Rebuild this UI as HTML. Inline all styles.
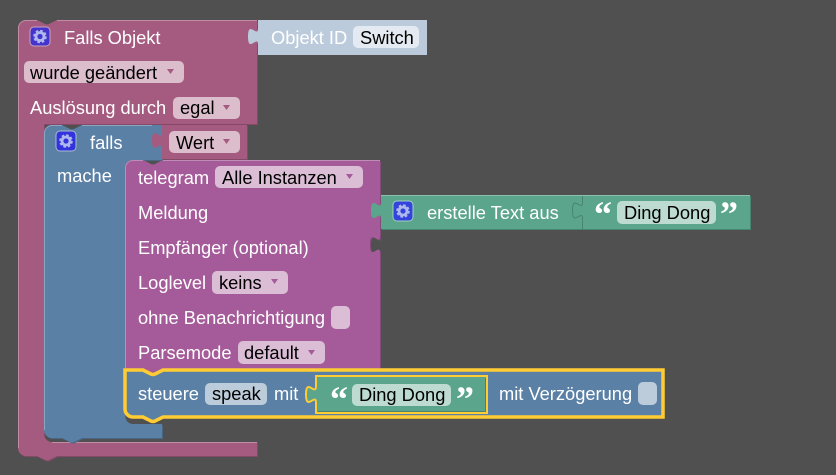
<!DOCTYPE html>
<html><head><meta charset="utf-8"><style>
html,body{margin:0;padding:0;background:#505050;width:836px;height:475px;overflow:hidden}
svg{display:block}
text{font-family:"Liberation Sans",sans-serif;font-size:18.3px;fill:#fff;white-space:pre}
.d{fill:#000}
.q{font-family:"Liberation Serif",serif;font-weight:bold;font-size:36px;fill:#fff}
</style></head><body>
<svg width="836" height="475" viewBox="0 0 836 475" xmlns="http://www.w3.org/2000/svg">
<defs>
<g id="gear">
<circle cx="10" cy="10" r="4" fill="none" stroke="#aeb8ee" stroke-width="2.8"/>
<circle cx="10" cy="10" r="5.800" fill="none" stroke="#aeb8ee" stroke-width="2" stroke-dasharray="2.6 1.95"/>
</g>
</defs>
<rect width="836" height="475" fill="#505050"/>

<!-- outer pink -->
<path transform="translate(1,1)" fill="#844966" d="M18,28a8,8 0 0 1 8,-8H37l7,3.500q3,2 6,0l7,-3.500H257V124H44V434a8,8 0 0 0 8,8H257V456H57l-7,3.500q-3,2 -6,0l-7,-3.500H26a8,8 0 0 1 -8,-8Z"/>
<path fill="#a55b80" d="M18,28a8,8 0 0 1 8,-8H37l7,3.500q3,2 6,0l7,-3.500H257V124H44V434a8,8 0 0 0 8,8H257V456H57l-7,3.500q-3,2 -6,0l-7,-3.500H26a8,8 0 0 1 -8,-8Z"/>
<path fill="none" stroke="#c08ca6" d="M18.500,448V28a7.500,7.500 0 0 1 7.500,-7.500H37M57,20.500H257M52,442.500H257"/>

<!-- Objekt ID -->
<path fill="#bccbdb" d="M258,20H427V55H258V45c0,-11 -10,9 -10,-8.500s10,2.500 10,-8.500Z"/>
<text x="271" y="44">Objekt ID</text>
<rect x="353" y="26" width="66" height="22" rx="5" fill="#e4eaf1"/>
<text class="d" x="360" y="44">Switch</text>

<!-- Falls Objekt content -->
<rect x="30" y="27" width="20" height="19" rx="4" fill="#4433cc" stroke="#c9a3c0"/>
<use href="#gear" x="30" y="26.500"/>
<text x="64" y="44">Falls Objekt</text>
<rect x="24" y="61" width="160" height="22" rx="5" fill="#dbbdcc"/>
<text class="d" x="30" y="79">wurde geändert</text>
<path d="M167,69h7l-3.500,5Z" fill="#a55b80"/>
<text x="30" y="114">Auslösung durch</text>
<rect x="173" y="97" width="67" height="22" rx="5" fill="#dbbdcc"/>
<text class="d" x="180" y="114">egal</text>
<path d="M223,105h7l-3.500,5Z" fill="#a55b80"/>

<!-- blue falls -->
<path transform="translate(1,1)" fill="#496683" d="M44,133a8,8 0 0 1 8,-8H62l7,3.500q3,2 6,0l7,-3.500H162V160H133a8,8 0 0 0 -8,8V416a8,8 0 0 0 8,8H162V438H82l-7,3.500q-3,2 -6,0l-7,-3.500H52a8,8 0 0 1 -8,-8Z"/>
<path fill="#5b80a5" d="M44,133a8,8 0 0 1 8,-8H62l7,3.500q3,2 6,0l7,-3.500H162V160H133a8,8 0 0 0 -8,8V416a8,8 0 0 0 8,8H162V438H82l-7,3.500q-3,2 -6,0l-7,-3.500H52a8,8 0 0 1 -8,-8Z"/>
<path fill="none" stroke="#8ca6c0" d="M44.500,430V133a7.500,7.500 0 0 1 7.500,-7.500H62M82,125.500H152"/>

<!-- Wert -->
<path fill="#844966" d="M163,126H248V160H163Z"/>
<path fill="#a55b80" d="M162,125H247V159H162V149c0,-11 -10,9 -10,-8.500s10,2.500 10,-8.500Z"/>
<rect x="169" y="131" width="71" height="22" rx="5" fill="#dbbdcc"/>
<text class="d" x="176" y="149">Wert</text>
<path d="M223,139h7l-3.500,5Z" fill="#a55b80"/>
<rect x="56" y="131" width="20" height="20" rx="4" fill="#3333dd" stroke="#aabbd0"/>
<use href="#gear" x="56" y="131"/>
<text x="90" y="149">falls</text>
<text x="57" y="182">mache</text>

<!-- telegram -->
<path transform="translate(1,1)" fill="#844a7a" d="M125,168a8,8 0 0 1 8,-8H143l7,3.500q3,2 6,0l7,-3.500H380V236c0,11 -10,-9 -10,8.500s10,-2.500 10,8.500V368H125Z"/>
<path fill="#a55b99" d="M125,168a8,8 0 0 1 8,-8H143l7,3.500q3,2 6,0l7,-3.500H380V236c0,11 -10,-9 -10,8.500s10,-2.500 10,8.500V372H163l-7,3.500q-3,2 -6,0l-7,-3.500H125Z"/>
<path fill="none" stroke="#c08cb8" d="M125.500,368V168a7.500,7.500 0 0 1 7.500,-7.500H143M163,160.500H380"/>
<text x="138" y="184">telegram</text>
<rect x="215" y="166" width="148" height="22" rx="5" fill="#dbbdd6"/>
<text class="d" x="222" y="184">Alle Instanzen</text>
<path d="M346,174h7l-3.500,5Z" fill="#a55b99"/>
<text x="138" y="219">Meldung</text>
<text x="138" y="254">Empfänger (optional)</text>
<text x="138" y="289">Loglevel</text>
<rect x="212" y="271" width="76" height="23" rx="5" fill="#dbbdd6"/>
<text class="d" x="219" y="289">keins</text>
<path d="M271,279h7l-3.500,5Z" fill="#a55b99"/>
<text x="138" y="324">ohne Benachrichtigung</text>
<rect x="331" y="306" width="19" height="23" rx="5" fill="#dbbdd6"/>
<text x="138" y="359">Parsemode</text>
<rect x="238" y="341" width="87" height="23" rx="5" fill="#dbbdd6"/>
<text class="d" x="244" y="359">default</text>
<path d="M308,350h7l-3.500,5Z" fill="#a55b99"/>

<!-- green text -->
<path fill="#498470" d="M382,196H751V230H382Z"/>
<path fill="#5ba58c" d="M381,195H582V229H381V219c0,-11 -10,9 -10,-8.500s10,2.500 10,-8.500Z"/>
<path fill="#5ba58c" d="M583,195H750V229H583V219c0,-11 -10,9 -10,-8.500s10,2.500 10,-8.500Z"/>
<path fill="none" stroke="#498470" d="M582.500,195V202c0,11 -10,-9 -10,8.500s10,-2.500 10,8.500V229"/>
<path fill="none" stroke="#8cc0ae" d="M381,195.500H750"/>
<rect x="393" y="201" width="20" height="20" rx="4" fill="#3344dd" stroke="#a0d0c0"/>
<use href="#gear" x="393" y="201"/>
<text x="427" y="219">erstelle Text aus</text>
<text class="q" x="594" y="226">“</text>
<rect x="617" y="201" width="99" height="23" rx="5" fill="#bddbd1"/>
<text class="d" x="624" y="219">Ding Dong</text>
<text class="q" x="720" y="226">”</text>

<!-- selected steuere -->
<path fill="#5b80a5" stroke="#fc3" stroke-width="3.500" d="M125,370H143l7,3.500q3,2 6,0l7,-3.500H663V417H163l-7,3.500q-3,2 -6,0l-7,-3.500H133a8,8 0 0 1 -8,-8Z"/>
<text x="138" y="400">steuere</text>
<rect x="205" y="383" width="62" height="22" rx="5" fill="#bdccdb"/>
<text class="d" x="212" y="400">speak</text>
<text x="274" y="400">mit</text>
<path fill="#5ba58c" stroke="#fc3" stroke-width="2" d="M316,376H487V413H316V403c0,-11 -10,9 -10,-8.500s10,2.500 10,-8.500Z"/>
<path fill="none" stroke="#498470" d="M318,411.500H485.500V378"/>
<text class="q" x="330" y="411">“</text>
<rect x="352" y="384" width="99" height="22" rx="5" fill="#bddbd1"/>
<text class="d" x="359" y="401">Ding Dong</text>
<text class="q" x="456" y="411">”</text>
<text x="499" y="400">mit Verzögerung</text>
<rect x="638" y="382" width="19" height="23" rx="5" fill="#bdccdb"/>
</svg>
</body></html>
